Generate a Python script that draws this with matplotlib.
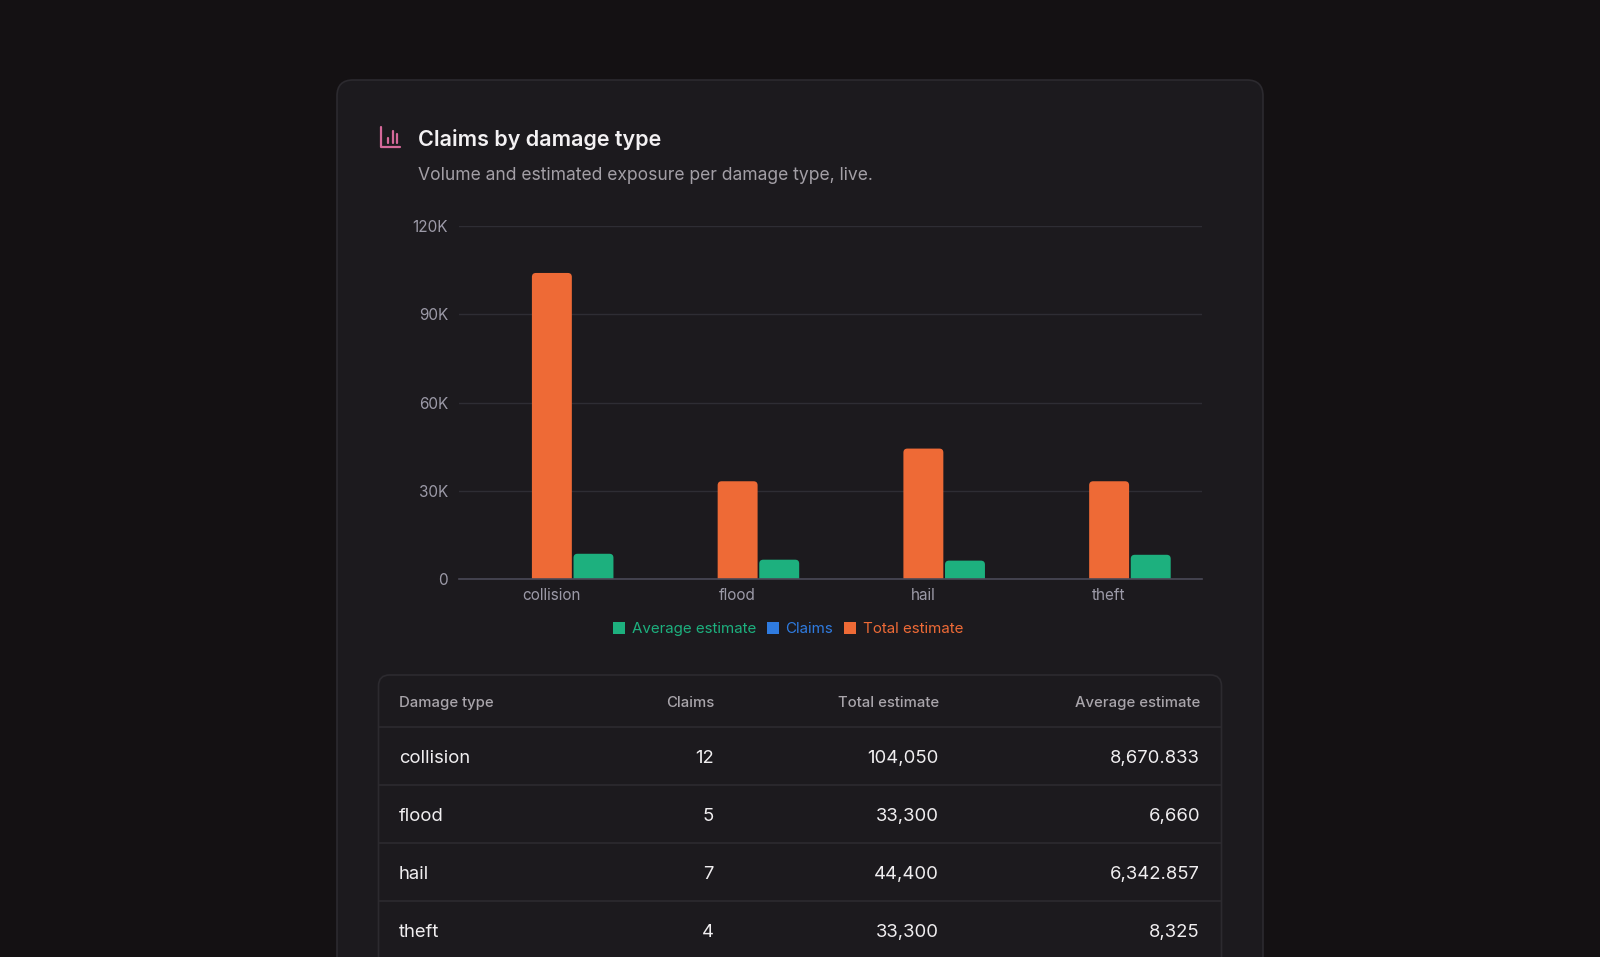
import numpy as np
import matplotlib.pyplot as plt
from matplotlib.patches import FancyBboxPatch, Patch

# 数据
damage_types = ['collision', 'flood', 'hail', 'theft']
claims = [12, 5, 7, 4]
total_estimate = [104050, 33300, 44400, 33300]
avg_estimate = [8670.833, 6660, 6342.857, 8325]
y_ticks = [0, 30000, 60000, 90000, 120000]
y_tick_labels = ['0', '30K', '60K', '90K', '120K']
legend_labels = ['Average estimate', 'Claims', 'Total estimate']
table_header = ['Damage type', 'Claims', 'Total estimate', 'Average estimate']

# 颜色
BG = '#141113'
CARD = '#1c1a1e'
BORDER = '#2c2a2f'
TITLE = '#f3f1f3'
SUB = '#a39fa6'
TICK = '#9c9aa8'
GRID = '#2e2d34'
AXIS = '#4a4957'
ORANGE = '#ee6a36'
GREEN = '#1db07e'
BLUE = '#2f7be0'
PINK = '#d4699a'
HEAD = '#a9a5ab'
TEXT = '#f0eef0'

W, H = 1600, 957
plt.rcParams['font.family'] = ['Inter', 'DejaVu Sans']

fig = plt.figure(figsize=(W / 100, H / 100), dpi=100, facecolor=BG)

# 背景层 (像素坐标)
bg = fig.add_axes([0, 0, 1, 1], zorder=0)
bg.set_xlim(0, W)
bg.set_ylim(H, 0)
bg.axis('off')

bg.add_patch(FancyBboxPatch((337, 80), 1263 - 337, 1000,
                            boxstyle='round,pad=0,rounding_size=16',
                            fc=CARD, ec=BORDER, lw=1.2))

# 图标
bg.plot([381, 381, 400], [127, 146.5, 146.5], color=PINK, lw=1.6,
        solid_capstyle='round', solid_joinstyle='round')
for ix, top in [(387.5, 138), (392.5, 131), (397.2, 133.5)]:
    bg.plot([ix, ix], [top, 143], color=PINK, lw=1.6, solid_capstyle='round')

bg.text(418, 140, 'Claims by damage type', fontsize=15.5, weight='semibold',
        color=TITLE, va='center', ha='left')
bg.text(418, 175, 'Volume and estimated exposure per damage type, live.',
        fontsize=12.6, color=SUB, va='center', ha='left')

# 柱状图
ax = fig.add_axes([459 / W, 1 - 579.3 / H, 743 / W, 353.3 / H], zorder=1)
ax.patch.set_alpha(0)
x = np.arange(len(damage_types))
bar_w = 0.215
gap = 0.009
# Claims 数值太小, 柱子几乎不可见, 但占据左侧位置
b_claims = ax.bar(x - bar_w - gap, claims, width=bar_w, color=BLUE)
b_total = ax.bar(x, total_estimate, width=bar_w, color=ORANGE)
b_avg = ax.bar(x + bar_w + gap, avg_estimate, width=bar_w, color=GREEN)

# 圆角柱顶
r = 4 / 185.75
asp = (120000 / 353.3) / (1 / 185.75)
for p in list(b_total) + list(b_avg):
    bb = p.get_bbox()
    x0, x1 = min(bb.x0, bb.x1), max(bb.x0, bb.x1)
    p.set_visible(False)
    ax.add_patch(FancyBboxPatch((x0, -4000), x1 - x0, bb.y1 + 4000,
                                boxstyle=f'round,pad=0,rounding_size={r}',
                                mutation_aspect=asp, fc=p.get_facecolor(),
                                ec='none', zorder=2))

ax.set_xlim(-0.5, 3.5)
ax.set_ylim(0, 120000)
ax.set_yticks(y_ticks)
ax.set_yticklabels(y_tick_labels)
ax.set_xticks(x)
ax.set_xticklabels(damage_types)
ax.grid(axis='y', color=GRID, lw=1)
ax.set_axisbelow(True)
for s in ['left', 'right', 'top']:
    ax.spines[s].set_visible(False)
ax.spines['bottom'].set_color(AXIS)
ax.spines['bottom'].set_linewidth(1.2)
ax.spines['bottom'].set_zorder(3)
ax.tick_params(axis='y', length=0, pad=8, labelsize=11, labelcolor=TICK)
ax.tick_params(axis='x', length=0, pad=6, labelsize=11, labelcolor=TICK)

# 图例
handles = [Patch(fc=GREEN), Patch(fc=BLUE), Patch(fc=ORANGE)]
leg = fig.legend(handles, legend_labels, loc='center',
                 bbox_to_anchor=(788 / W, 1 - 629 / H), ncol=3, frameon=False,
                 handlelength=0.8, handleheight=0.8, handletextpad=0.45,
                 columnspacing=0.7, fontsize=10.9)
for t, c in zip(leg.get_texts(), [GREEN, BLUE, ORANGE]):
    t.set_color(c)

# 表格
def fmt(v):
    s = f'{v:,.3f}'.rstrip('0').rstrip('.')
    return s

bg.add_patch(FancyBboxPatch((378.5, 675), 1221.5 - 378.5, 400,
                            boxstyle='round,pad=0,rounding_size=11',
                            fc=CARD, ec=BORDER, lw=1.2))
col_x = [399, 714, 939, 1200]
col_ha = ['left', 'right', 'right', 'right']
for cx, ha, label in zip(col_x, col_ha, table_header):
    bg.text(cx, 703, label, fontsize=10.7, weight='medium', color=HEAD,
            ha=ha, va='center')

row_h = 58.1
first_line = 726.6
for i, name in enumerate(damage_types):
    bg.plot([379, 1221], [first_line + i * row_h] * 2, color=BORDER, lw=1.2)
    yc = first_line + i * row_h + row_h / 2 + 3
    vals = [name, fmt(claims[i]), fmt(total_estimate[i]), fmt(avg_estimate[i])]
    for cx, ha, v in zip(col_x, col_ha, vals):
        bg.text(cx, yc, v, fontsize=13.3, color=TEXT, ha=ha, va='center')

fig.savefig('out.png', dpi=100, facecolor=BG)
